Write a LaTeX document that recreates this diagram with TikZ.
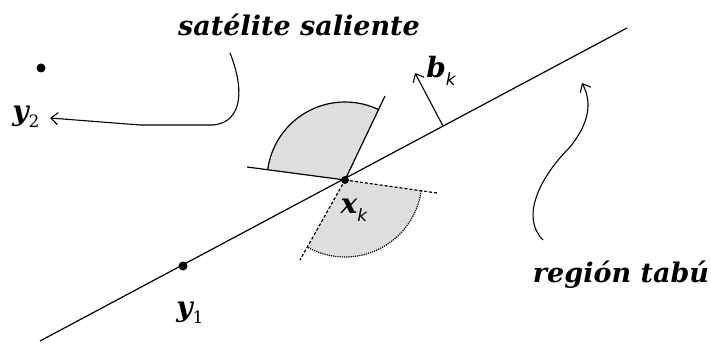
\documentclass[tikz,border=0pt]{standalone}
\usepackage{fontspec}
\setmainfont{DejaVu Serif}
\newfontfamily\subsans{DejaVu Sans}
\usetikzlibrary{arrows.meta}
\tikzset{
 lbl/.style={font=\bfseries\itshape\fontsize{27}{32}\selectfont, inner sep=0pt},
 mlbl/.style={font=\bfseries\itshape\fontsize{28}{32}\selectfont, inner sep=0pt},
 dot/.style={circle, fill=black, inner sep=0pt, minimum size=9pt},
 ln/.style={line width=1.2pt},
 barb/.style={-{Straight Barb[length=7pt,width=12pt]}, line width=1.1pt},
 wedge/.style={fill=black!13},
}
\newcommand{\subk}{\raisebox{-8pt}{\fontsize{17}{17}\selectfont\subsans\mdseries\itshape k}}
\newcommand{\subn}[1]{\raisebox{-7pt}{\fontsize{17}{17}\selectfont\mdseries\upshape #1}}
\begin{document}
\begin{tikzpicture}[x=1pt,y=1pt]
\useasboundingbox (0,0) rectangle (711,347);
% geometry
\coordinate (A) at (40,6);
\coordinate (B) at (627,319);
\coordinate (xk) at (345,167);
\coordinate (L) at (247,180);
\coordinate (R) at (437,154);
\coordinate (U) at (385,251);
\coordinate (D) at (300,87);
\coordinate (P) at (443,221);
\coordinate (btip) at (415,274);
% wedges
\fill[wedge] (xk) -- ++(172.4:78) arc[start angle=172.4,end angle=64.5,radius=78] -- cycle;
\fill[wedge] (xk) -- ++(-8:77) arc[start angle=-8,end angle=-119,radius=77] -- cycle;
\draw[ln] (xk) ++(172.4:78) arc[start angle=172.4,end angle=64.5,radius=78];
\draw[ln, densely dotted] (xk) ++(-8:77) arc[start angle=-8,end angle=-119,radius=77];
% lines
\draw[ln] (A) -- (B);
\draw[ln] (L) -- (xk);
\draw[ln, densely dashed] (xk) -- (R);
\draw[ln] (xk) -- (U);
\draw[ln, densely dashed] (xk) -- (D);
% dots
\node[dot, minimum size=8pt] (xkdot) at (xk) {};
\node[dot] (y1) at (183,81) {};
\node[dot] (y2) at (41,279) {};
% normal b_k
\draw[barb] (P) -- (btip);
% labels
\node[mlbl] (xklab) at (354,137) {x\subk};
\node[mlbl] (bklab) at (441,276) {b\subk};
\node[mlbl] (y1lab) at (190,34) {y\subn{1}};
\node[mlbl] (y2lab) at (26,230) {y\subn{2}};
\node[lbl] (sat) at (299,322) {satélite saliente};
\node[lbl] (reg) at (621,72) {región tabú};
% annotation arrows
\coordinate (s0) at (230,294);
\coordinate (s1) at (213,222);
\coordinate (s2) at (140,222);
\coordinate (s3) at (50,229);
\draw[barb] (s0) .. controls (243,262) and (245,225) .. (s1) -- (s2) -- (s3);
\coordinate (r0) at (543,107);
\coordinate (r1) at (570,200);
\coordinate (r2) at (582,264);
\draw[barb] (r0) .. controls (520,130) and (540,170) .. (r1) .. controls (590,225) and (592,245) .. (r2);
\end{tikzpicture}
\end{document}
